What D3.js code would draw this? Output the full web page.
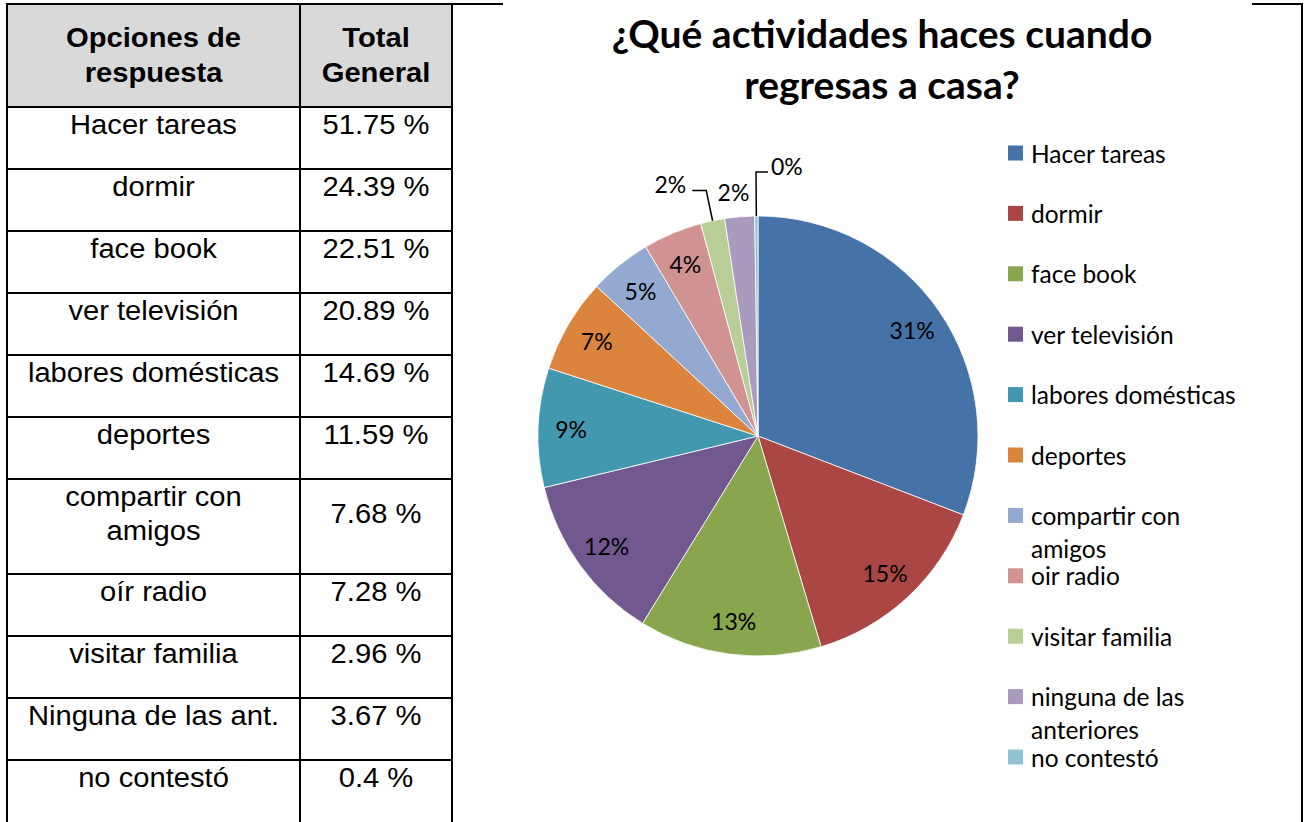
<!DOCTYPE html>
<html><head><meta charset="utf-8">
<script src="https://cdn.jsdelivr.net/npm/d3@7"></script>
<style>body{margin:0;background:#fff}svg{display:block}</style>
</head><body><svg id="c" width="1306" height="822"></svg>
<script>
// ---------- data ----------
const categories = ["Hacer tareas","dormir","face book","ver televisión","labores domésticas","deportes","compartir con amigos","oír radio","visitar familia","Ninguna de las ant.","no contestó"];
const tableLines = [["Hacer tareas"],["dormir"],["face book"],["ver televisión"],["labores domésticas"],["deportes"],["compartir con","amigos"],["oír radio"],["visitar familia"],["Ninguna de las ant."],["no contestó"]];
const values = [51.75,24.39,22.51,20.89,14.69,11.59,7.68,7.28,2.96,3.67,0.4];
const valueLabels = ["51.75 %","24.39 %","22.51 %","20.89 %","14.69 %","11.59 %","7.68 %","7.28 %","2.96 %","3.67 %","0.4 %"];
const legendLabels = [["Hacer tareas"],["dormir"],["face book"],["ver televisión"],["labores domésticas"],["deportes"],["compartir con","amigos"],["oir radio"],["visitar familia"],["ninguna de las","anteriores"],["no contestó"]];
const colors = ["#4572A7","#AA4643","#89A54E","#71588F","#4198AF","#DB843D","#93A9CF","#D19392","#B9CD96","#A99BBD","#92C3D4"];
const headers = [["Opciones de","respuesta"],["Total","General"]];
const titleLines = ["¿Qué actividades haces cuando","regresas a casa?"];

// ---------- layout ----------
const svg = d3.select("#c");
svg.append("rect").attr("width",1306).attr("height",822).attr("fill","#fff");
const tableFont = "'Liberation Sans', Arial, sans-serif";
const chartFont = "Lato, 'Open Sans', sans-serif";
const stretch = 1.08;

// table geometry
const colX = [7, 300, 452];
const headerTop = 4, headerH = 103;
const rowH = tableLines.map(l => l.length > 1 ? 95 : 62);
const rowTops = [];
let yy = headerTop + headerH;
rowH.forEach(h => { rowTops.push(yy); yy += h; });

const tbl = svg.append("g");
tbl.append("rect").attr("x",colX[0]).attr("y",headerTop).attr("width",colX[2]-colX[0]).attr("height",headerH).attr("fill","#d9d9d9");

function tText(x, y, t, bold) {
  tbl.append("text").attr("transform",`translate(${x},${y}) scale(${stretch},1)`)
    .attr("text-anchor","middle").attr("font-family",tableFont)
    .attr("font-weight", bold ? "bold" : "normal")
    .attr("font-size",27).attr("fill","#000").text(t);
}
const colC = [(colX[0]+colX[1])/2, (colX[1]+colX[2])/2];
headers.forEach((lines,ci) => lines.forEach((t,li) => tText(colC[ci], 47+li*35, t, true)));
tableLines.forEach((lines,i) => {
  const top = rowTops[i];
  lines.forEach((t,li) => tText(colC[0], top+27+li*34, t, false));
  const vy = lines.length > 1 ? top + 44 : top + 27;
  tText(colC[1], vy, valueLabels[i], false);
});
// grid lines
const hLines = [headerTop+headerH, ...rowTops.slice(1)];
hLines.forEach(y => tbl.append("line").attr("x1",colX[0]).attr("x2",colX[2]).attr("y1",y).attr("y2",y)
  .attr("stroke","#000").attr("stroke-width",2));
colX.forEach(x => tbl.append("line").attr("x1",x).attr("x2",x).attr("y1",headerTop).attr("y2",822)
  .attr("stroke","#000").attr("stroke-width",2));
// outer top border (table + chart frame, interrupted by title)
svg.append("line").attr("x1",colX[0]-1).attr("x2",503).attr("y1",headerTop).attr("y2",headerTop).attr("stroke","#000").attr("stroke-width",2);
svg.append("line").attr("x1",1252).attr("x2",1303).attr("y1",headerTop).attr("y2",headerTop).attr("stroke","#000").attr("stroke-width",2);
svg.append("line").attr("x1",1302).attr("x2",1302).attr("y1",headerTop-1).attr("y2",822).attr("stroke","#000").attr("stroke-width",2);

// ---------- title ----------
titleLines.forEach((t,i) => {
  svg.append("text").attr("x",882).attr("y",48+i*51).attr("text-anchor","middle")
    .attr("font-family",chartFont).attr("font-weight","bold").attr("font-size",39)
    .attr("fill","#000").text(t);
});

// ---------- pie ----------
const cx = 758, cy = 436, R = 220;
const total = d3.sum(values);
const pie = d3.pie().sort(null).value(d => d);
const arcs = pie(values);
const arc = d3.arc().innerRadius(0).outerRadius(R);
const gPie = svg.append("g").attr("transform",`translate(${cx},${cy})`);
gPie.selectAll("path").data(arcs).join("path")
  .attr("d",arc).attr("fill",(d,i)=>colors[i]).attr("stroke","#fff").attr("stroke-width",0.8);

const pctFmt = v => Math.round(v/total*100) + "%";
const labelArc = d3.arc().innerRadius(R*0.85).outerRadius(R*0.85);
const polar = (a, r) => [r*Math.sin(a), -r*Math.cos(a)];
const outside = {8:{elbow:1.14, run:-14, anchor:"end", dx:-6, dy:-7},
                 9:{elbow:null, r:1.115},
                 10:{elbow:1.2, run:12, anchor:"start", dx:3, dy:-6}};
arcs.forEach((d,i) => {
  const mid = (d.startAngle + d.endAngle)/2;
  const txt = pctFmt(values[i]);
  const o = outside[i];
  let x, y, anchor = "middle";
  if (!o) {
    [x,y] = labelArc.centroid(d);
  } else if (o.elbow === null) {
    [x,y] = polar(mid, R*o.r);
    x -= 4;
  } else {
    const p0 = polar(mid, R), p1 = polar(mid, R*o.elbow);
    const p2 = [p1[0]+o.run, p1[1]];
    gPie.append("polyline").attr("points",[p0,p1,p2].map(p=>p.join(",")).join(" "))
      .attr("fill","none").attr("stroke","#000").attr("stroke-width",1.5);
    x = p2[0] + o.dx; y = p2[1] + o.dy; anchor = o.anchor;
  }
  gPie.append("text").attr("x",x).attr("y",y).attr("text-anchor",anchor)
    .attr("dominant-baseline","central").attr("font-family",chartFont)
    .attr("font-size",23).attr("fill","#000").text(txt);
});

// ---------- legend ----------
const legX = 1008, legY0 = 153, legStep = 60.4;
const gLeg = svg.append("g");
legendLabels.forEach((lines,i) => {
  const y = legY0 + i*legStep;
  gLeg.append("rect").attr("x",legX).attr("y",y-7.5).attr("width",15).attr("height",15).attr("fill",colors[i]);
  lines.forEach((t,li) => {
    gLeg.append("text").attr("x",legX+23).attr("y",y+li*33).attr("dominant-baseline","central")
      .attr("font-family",chartFont).attr("font-size",24.5).attr("fill","#000").text(t);
  });
});
</script></body></html>
